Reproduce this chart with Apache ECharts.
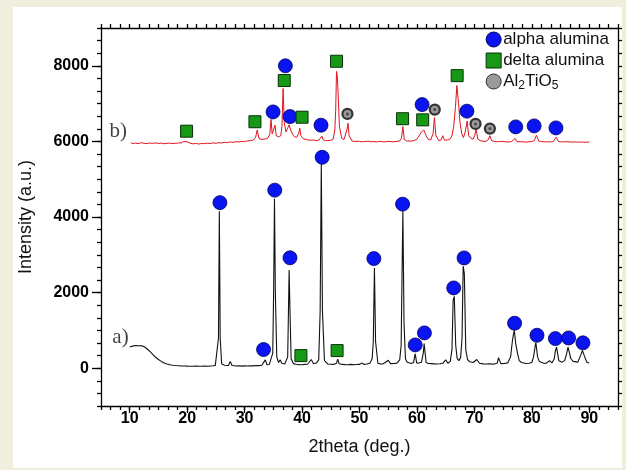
<!DOCTYPE html>
<html>
<head>
<meta charset="utf-8">
<script src="https://cdn.jsdelivr.net/npm/echarts@6/dist/echarts.min.js"></script>
<style>
  html, body { margin: 0; padding: 0; background: #f0efde; }
  #chart { width: 626px; height: 470px; }
</style>
</head>
<body>
<div id="chart"></div>
<script>
// tick labels
var xMajorTicks = [10, 20, 30, 40, 50, 60, 70, 80, 90];
var yMajorTicks = [0, 2000, 4000, 6000, 8000];

// pattern a) - black
var curveA = [
  [10.0, 560], [10.3, 600], [10.5, 585], [10.8, 615], [11.0, 600], [11.3, 620], [11.6, 595], [11.9, 615],
  [12.2, 590], [12.6, 560], [13.0, 515], [13.3, 470], [13.6, 430], [14.0, 365], [14.5, 290], [15.0, 230],
  [15.5, 180], [16.0, 140], [16.5, 112], [17.0, 90], [17.5, 78], [18.0, 70], [18.5, 66], [19.0, 60],
  [19.6, 58], [20.0, 55], [20.6, 52], [21.0, 50], [21.6, 56], [22.0, 52], [22.6, 50], [23.0, 55],
  [23.6, 52], [24.0, 60], [24.5, 66], [24.9, 75], [25.2, 110], [25.45, 800], [25.6, 4150], [25.75, 800],
  [26.0, 120], [26.5, 80], [27.2, 70], [27.5, 180], [27.8, 70], [28.5, 60], [29.0, 66], [29.5, 55],
  [30.0, 62], [30.5, 58], [31.0, 66], [31.5, 62], [32.0, 72], [32.5, 68], [33.0, 80], [33.3, 95],
  [33.6, 220], [33.9, 90], [34.3, 100], [34.6, 130], [34.9, 400], [35.05, 2000], [35.2, 4480], [35.35, 2000],
  [35.6, 300], [35.9, 150], [36.2, 220], [36.5, 130], [37.0, 110], [37.5, 300], [37.75, 2600], [37.9, 1500],
  [38.1, 250], [38.5, 120], [39.0, 105], [39.5, 95], [40.0, 90], [40.5, 100], [41.0, 110], [41.3, 130],
  [41.6, 230], [42.0, 120], [42.5, 140], [42.9, 220], [43.15, 1500], [43.35, 5400], [43.55, 1500], [43.9, 200],
  [44.5, 110], [45.0, 105], [45.5, 100], [46.0, 130], [46.2, 240], [46.45, 120], [47.0, 100], [47.5, 95],
  [48.0, 92], [48.5, 100], [49.0, 90], [49.5, 96], [50.0, 100], [50.4, 140], [50.8, 100], [51.3, 110],
  [51.8, 130], [52.2, 250], [52.4, 700], [52.6, 2650], [52.8, 700], [53.2, 130], [53.6, 115], [54.0, 110],
  [54.5, 150], [55.0, 210], [55.4, 120], [56.0, 125], [56.5, 135], [57.0, 220], [57.25, 600], [57.45, 3000],
  [57.55, 4150], [57.75, 1200], [58.0, 250], [58.3, 160], [58.6, 130], [59.0, 125], [59.4, 150], [59.7, 380],
  [59.95, 140], [60.3, 135], [60.8, 160], [61.1, 400], [61.25, 650], [61.35, 680], [61.6, 150], [62.0, 125],
  [62.5, 120], [63.0, 115], [63.5, 110], [64.0, 118], [64.5, 130], [65.0, 220], [65.4, 130], [65.8, 180],
  [66.1, 500], [66.3, 1800], [66.5, 1900], [66.75, 600], [67.0, 260], [67.3, 200], [67.6, 280], [67.85, 800],
  [68.05, 2700], [68.25, 2500], [68.5, 500], [68.8, 230], [69.2, 170], [69.8, 150], [70.4, 230], [70.9, 130],
  [71.5, 115], [72.0, 110], [72.6, 118], [73.0, 108], [73.5, 112], [74.0, 140], [74.2, 280], [74.6, 120],
  [75.2, 125], [75.8, 140], [76.3, 300], [76.6, 700], [76.8, 900], [76.95, 1000], [77.2, 650], [77.5, 400],
  [77.8, 200], [78.2, 150], [78.5, 130], [79.0, 125], [79.5, 130], [80.0, 150], [80.3, 300], [80.6, 600],
  [80.7, 680], [81.0, 300], [81.3, 180], [81.6, 140], [82.0, 135], [82.5, 130], [83.1, 200], [83.5, 140],
  [83.9, 250], [84.1, 450], [84.3, 560], [84.7, 200], [85.0, 170], [85.3, 160], [85.7, 200], [86.0, 350],
  [86.3, 560], [86.4, 580], [86.8, 250], [87.2, 180], [87.5, 150], [88.0, 160], [88.3, 200], [88.6, 380],
  [88.8, 470], [89.0, 420], [89.2, 300], [89.6, 150], [90.0, 140]
];

// pattern b) - red
var curveB = [
  [10.2, 5960], [10.6, 5945], [11.0, 5955], [11.5, 5940], [12.0, 5965], [12.5, 5950], [13.0, 5940], [13.5, 5958],
  [14.0, 5948], [14.5, 5960], [15.0, 5945], [15.5, 5955], [16.0, 5938], [16.5, 5950], [17.0, 5955], [17.5, 5942],
  [18.0, 5950], [18.5, 5958], [19.0, 5960], [19.4, 6000], [19.7, 6050], [20.0, 5990], [20.5, 5955], [21.0, 5935],
  [21.5, 5945], [22.0, 5930], [22.5, 5945], [23.0, 5940], [23.5, 5952], [24.0, 5944], [24.5, 5960], [25.0, 5950],
  [25.5, 5966], [26.0, 5958], [26.5, 5975], [27.0, 5968], [27.5, 5985], [28.0, 5975], [28.5, 5992], [29.0, 5985],
  [29.5, 6002], [30.0, 5995], [30.5, 6012], [31.0, 6020], [31.5, 6032], [31.9, 6100], [32.2, 6300], [32.5, 6080],
  [33.0, 6050], [33.5, 6062], [34.0, 6080], [34.4, 6200], [34.6, 6580], [34.8, 6200], [35.0, 6200], [35.3, 6430],
  [35.5, 6150], [35.9, 6120], [36.3, 6150], [36.5, 6400], [36.7, 7400], [36.9, 6500], [37.2, 6250], [37.5, 6350],
  [37.75, 6440], [38.0, 6300], [38.5, 6150], [39.0, 6100], [39.4, 6200], [39.6, 6350], [39.8, 6150], [40.2, 6070],
  [40.5, 6050], [41.0, 6040], [41.5, 6030], [42.0, 6035], [42.5, 6020], [42.9, 6030], [43.2, 6060], [43.45, 6140],
  [43.7, 6040], [44.1, 6025], [44.5, 6020], [45.0, 6030], [45.4, 6050], [45.7, 6300], [45.85, 6800], [46.0, 7850],
  [46.15, 7700], [46.3, 7200], [46.5, 6400], [46.9, 6080], [47.3, 6050], [47.6, 6100], [47.8, 6300], [48.0, 6480],
  [48.2, 6150], [48.7, 6010], [49.2, 6000], [49.5, 5990], [50.0, 6002], [50.5, 5988], [51.0, 5998], [51.5, 6005],
  [52.0, 5990], [52.5, 5996], [53.0, 5985], [53.5, 6002], [54.0, 5992], [54.5, 5988], [55.0, 6000], [55.5, 5994],
  [56.0, 5990], [56.5, 6002], [57.0, 6010], [57.3, 6080], [57.55, 6390], [57.8, 6050], [58.2, 6010], [58.5, 6000],
  [59.0, 6008], [59.5, 6020], [60.0, 6060], [60.3, 6100], [60.8, 6250], [61.2, 6300], [61.6, 6150], [62.0, 6050],
  [62.4, 6040], [62.8, 6200], [63.05, 6630], [63.3, 6150], [63.8, 6020], [64.2, 6040], [64.5, 6150], [64.8, 6030],
  [65.3, 6040], [65.7, 6050], [66.1, 6150], [66.4, 6400], [66.7, 6900], [66.95, 7480], [67.25, 7000], [67.5, 6500],
  [67.8, 6200], [68.1, 6100], [68.4, 6250], [68.75, 6540], [69.0, 6150], [69.4, 6080], [69.8, 6060], [70.05, 6150],
  [70.3, 6320], [70.6, 6060], [71.0, 6020], [71.5, 6005], [72.0, 6000], [72.4, 6040], [72.7, 6150], [73.0, 6020],
  [73.5, 5998], [74.0, 5990], [74.5, 6002], [75.0, 5995], [75.5, 5988], [76.0, 5985], [76.5, 5998], [76.8, 6010],
  [77.1, 6080], [77.4, 5995], [78.0, 5988], [78.5, 5992], [79.0, 5982], [79.5, 5990], [80.0, 5995], [80.4, 6020],
  [80.8, 6160], [81.2, 6010], [81.7, 5995], [82.2, 5988], [82.7, 5992], [83.2, 5985], [83.7, 5995], [84.0, 6030],
  [84.25, 6110], [84.6, 6000], [85.0, 5990], [85.5, 5985], [86.0, 5992], [86.5, 5988], [87.0, 5980], [87.5, 5986],
  [88.0, 5978], [88.5, 5985], [89.0, 5980], [89.5, 5976], [90.0, 5985]
];

// phase markers [2theta, intensity]
var alphaMarks = [
  [25.7, 4380], [33.3, 493], [35.25, 4710], [37.9, 2920], [43.5, 5580], [52.5, 2900], [57.5, 4340],
  [59.7, 616], [61.3, 934], [66.4, 2124], [68.2, 2917], [77.0, 1190], [80.9, 872], [84.1, 783],
  [86.4, 800], [88.9, 670],
  [34.95, 6780], [37.1, 8000], [37.9, 6656], [43.3, 6429], [60.9, 6974], [68.7, 6800],
  [77.2, 6384], [80.4, 6410], [84.2, 6357]
];
var deltaMarks = [
  [39.8, 333], [46.1, 466],
  [19.9, 6270], [31.8, 6520], [36.9, 7610], [40.0, 6640], [46.0, 8120], [57.5, 6600], [61.0, 6570], [67.0, 7740]
];
var al2tio5Marks = [[47.9, 6727], [63.1, 6841], [70.2, 6463], [72.7, 6339]];

var curveLabels = [[8.0, 6250, 'b)'], [8.4, 800, 'a)']];

var chart = echarts.init(document.getElementById('chart'));

var axisFont = { color: '#000', fontFamily: 'Arial, Liberation Sans', fontWeight: 'bold', fontSize: 16 };
var lineStyle = { color: '#000', width: 1.3 };

function xAxisBase(pos) {
  return {
    type: 'value', position: pos, min: 5, max: 95, interval: 5,
    axisLine: { show: true, onZero: false, lineStyle: lineStyle },
    axisTick: { show: true, length: 4, lineStyle: lineStyle },
    minorTick: { show: true, splitNumber: 3, length: 4, lineStyle: lineStyle },
    axisLabel: { show: false },
    splitLine: { show: false }
  };
}
function yAxisBase(pos) {
  return {
    type: 'value', position: pos, min: -1000, max: 9000, interval: 1000,
    axisLine: { show: true, onZero: false, lineStyle: lineStyle },
    axisTick: { show: true, length: 4, lineStyle: lineStyle },
    minorTick: { show: true, splitNumber: 3, length: 4, lineStyle: lineStyle },
    axisLabel: { show: false },
    splitLine: { show: false }
  };
}

var xMain = xAxisBase('bottom');
xMain.axisLabel = Object.assign({ show: true, margin: 5, formatter: function (v) {
  return xMajorTicks.indexOf(v) >= 0 ? String(v) : '';
} }, axisFont);
xMain.name = '2theta (deg.)';
xMain.nameLocation = 'middle';
xMain.nameGap = 32;
xMain.nameTextStyle = { color: '#111', fontFamily: 'Arial, Liberation Sans', fontSize: 18 };

var xMajor = {
  type: 'value', position: 'bottom', min: 5, max: 95,
  axisLine: { show: false, onZero: false },
  axisTick: { show: true, length: 7, customValues: xMajorTicks, lineStyle: lineStyle },
  axisLabel: { show: false }, splitLine: { show: false }
};

var yMain = yAxisBase('left');
yMain.axisLabel = Object.assign({ show: true, margin: 12, formatter: function (v) {
  return yMajorTicks.indexOf(v) >= 0 ? String(v) : '';
} }, axisFont);
yMain.name = 'Intensity (a.u.)';
yMain.nameLocation = 'middle';
yMain.nameGap = 66;
yMain.nameTextStyle = { color: '#111', fontFamily: 'Arial, Liberation Sans', fontSize: 18 };

var yMajor = {
  type: 'value', position: 'left', min: -1000, max: 9000,
  axisLine: { show: false, onZero: false },
  axisTick: { show: true, length: 9, customValues: yMajorTicks, lineStyle: lineStyle },
  axisLabel: { show: false }, splitLine: { show: false }
};

var option = {
  animation: false,
  backgroundColor: '#f0efde',
  graphic: [{
    type: 'rect', z: -10, silent: true,
    shape: { x: 13, y: 7, width: 609, height: 461 },
    style: { fill: '#ffffff' }
  }],
  grid: { left: 101, right: 8, top: 28, bottom: 64 },
  legend: {
    orient: 'vertical', right: 12, top: 26, itemGap: 4,
    itemWidth: 15, itemHeight: 15, itemStyle: { borderWidth: 1 },
    data: ['alpha alumina', 'delta alumina', 'Al2TiO5'],
    formatter: function (name) {
      return name === 'Al2TiO5' ? '{n|Al}{s|2}{n|TiO}{s|5}' : name;
    },
    textStyle: {
      color: '#111', fontFamily: 'Arial, Liberation Sans', fontSize: 17, padding: [0, 0, 0, -3],
      rich: {
        n: { fontSize: 17, fontFamily: 'Arial, Liberation Sans', color: '#111' },
        s: { fontSize: 12, fontFamily: 'Arial, Liberation Sans', color: '#111', padding: [9, 0, 0, 0] }
      }
    }
  },
  xAxis: [xMain, xMajor, xAxisBase('top')],
  yAxis: [yMain, yMajor, yAxisBase('right')],
  series: [
    {
      name: 'a', type: 'line', data: curveA, showSymbol: false, symbol: 'none',
      lineStyle: { color: '#111', width: 1.1 }, z: 2
    },
    {
      name: 'b', type: 'line', data: curveB, showSymbol: false, symbol: 'none',
      lineStyle: { color: '#e0141e', width: 1 }, z: 2
    },
    {
      name: 'alpha alumina', type: 'scatter', data: alphaMarks, symbol: 'circle', symbolSize: 14,
      itemStyle: { color: '#0a14f0', borderColor: '#000060', borderWidth: 0.8, opacity: 1 }, z: 5
    },
    {
      name: 'delta alumina', type: 'scatter', data: deltaMarks, symbol: 'rect', symbolSize: 12,
      itemStyle: { color: '#169a16', borderColor: '#0a300a', borderWidth: 1, opacity: 1 }, z: 5
    },
    {
      name: 'Al2TiO5', type: 'scatter', data: al2tio5Marks, symbol: 'circle', symbolSize: 10,
      itemStyle: { color: '#9a9a9a', borderColor: '#333', borderWidth: 2.2, opacity: 1 }, z: 5
    },
    {
      name: 'Al2TiO5 core', type: 'scatter', data: al2tio5Marks, symbol: 'circle', symbolSize: 3,
      itemStyle: { color: '#333' }, z: 6, silent: true
    },
    {
      name: 'labels', type: 'scatter', data: curveLabels, symbolSize: 0, silent: true, z: 6,
      label: {
        show: true, position: 'inside', formatter: function (p) { return p.data[2]; },
        color: '#111', fontFamily: 'Liberation Serif, Times New Roman, serif', fontSize: 21
      }
    }
  ]
};

chart.setOption(option);
</script>
</body>
</html>
